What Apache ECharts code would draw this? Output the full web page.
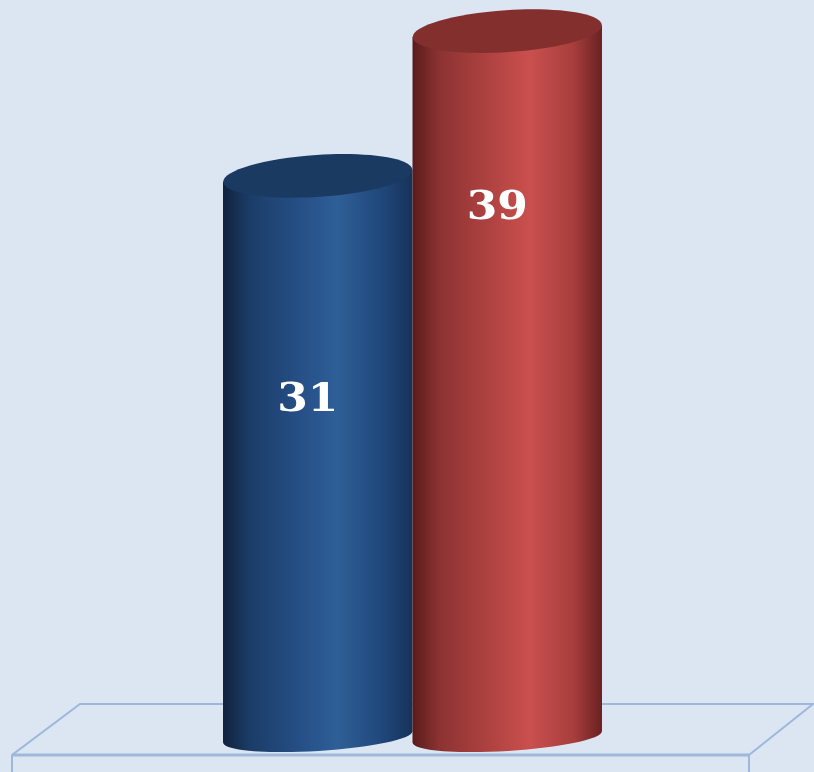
<!DOCTYPE html>
<html>
<head>
<meta charset="utf-8">
<script src="https://cdn.jsdelivr.net/npm/echarts@6/dist/echarts.min.js"></script>
<style>
  html, body { margin: 0; padding: 0; background: #dce6f2; }
  #chart { width: 814px; height: 772px; }
</style>
</head>
<body>
<div id="chart"></div>
<script>
// data
var categories = ['Series 1', 'Series 2'];
var values = [31, 39];

// look
var bodyColors = [
  [['#10233f', 0], ['#1b3c68', 0.14], ['#2a5690', 0.5], ['#2f5f97', 0.6], ['#20477a', 0.84], ['#16325a', 1]],
  [['#5a1b1b', 0], ['#8c3232', 0.14], ['#c24b49', 0.55], ['#c9504e', 0.62], ['#a73e3d', 0.85], ['#6a2121', 1]]
];
var topColors = ['#1a3a61', '#832f2e'];
var labelDy = [225, 178];

function gradient(stops) {
  return new echarts.graphic.LinearGradient(0, 0, 1, 0, stops.map(function (s) {
    return { offset: s[1], color: s[0] };
  }));
}

function renderItem(params, api) {
  var i = params.dataIndex;
  var top = api.coord([api.value(0), api.value(1)]);
  var base = api.coord([api.value(0), 0]);
  var w = api.size([1, 0])[0];
  var cx = top[0], rx = w / 2;
  var xl = cx - rx, xr = cx + rx;
  var ryTop = 21, ryBot = 14, rotTop = 0.065, rotBot = 0.06;
  var dTop = rotTop * (rx - ryTop * ryTop / rx);
  var dBot = rotBot * (rx - ryBot * ryBot / rx);
  var fill = gradient(bodyColors[i]);
  return {
    type: 'group',
    children: [
      {
        type: 'ellipse',
        x: cx, y: base[1], rotation: rotBot,
        shape: { cx: 0, cy: 0, rx: rx, ry: ryBot },
        style: { fill: fill }
      },
      {
        type: 'polygon',
        shape: { points: [[xl, base[1] + dBot], [xl, top[1] + dTop], [xr, top[1] - dTop], [xr, base[1] - dBot]] },
        style: { fill: fill }
      },
      {
        type: 'ellipse',
        x: cx, y: top[1], rotation: rotTop,
        shape: { cx: 0, cy: 0, rx: rx, ry: ryTop },
        style: { fill: topColors[i] }
      },
      {
        type: 'text',
        x: cx - 10, y: top[1] + labelDy[i],
        scaleX: 1.1,
        style: {
          text: String(api.value(1)),
          fill: '#ffffff',
          font: 'bold 40px "DejaVu Serif", serif',
          align: 'center',
          verticalAlign: 'middle'
        }
      }
    ]
  };
}

var chart = echarts.init(document.getElementById('chart'));
chart.setOption({
  backgroundColor: '#dce6f2',
  animation: false,
  graphic: [
    {
      type: 'polyline',
      z: 0,
      shape: { points: [[12, 772], [12, 755], [80, 704], [813, 704], [749, 755], [749, 772]] },
      style: { stroke: '#9db8dc', lineWidth: 2, fill: null }
    },
    {
      type: 'line',
      z: 0,
      shape: { x1: 12, y1: 755, x2: 749, y2: 755 },
      style: { stroke: '#9db8dc', lineWidth: 3 }
    }
  ],
  grid: { left: 223, right: 212, top: 13, bottom: 35 },
  xAxis: {
    type: 'category',
    data: categories,
    show: false
  },
  yAxis: {
    type: 'value',
    min: 0,
    max: 40,
    show: false
  },
  series: [{
    type: 'custom',
    z: 5,
    renderItem: renderItem,
    data: categories.map(function (c, i) { return [i, values[i]]; })
  }]
});
</script>
</body>
</html>
